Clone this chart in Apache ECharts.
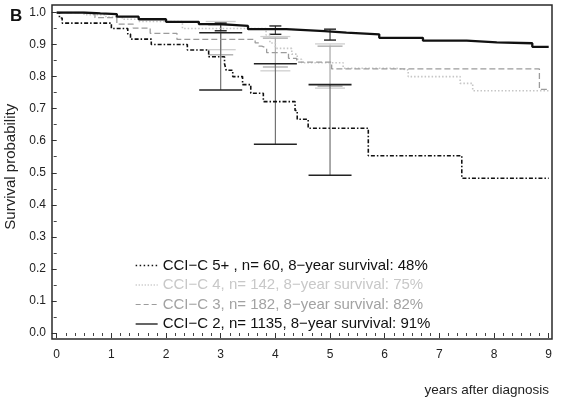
<!DOCTYPE html>
<html><head><meta charset="utf-8">
<script src="https://cdn.jsdelivr.net/npm/echarts@6/dist/echarts.min.js"></script>
<style>html,body{margin:0;padding:0;background:#fff}#c{width:563px;height:397px}</style>
</head><body><div id="c"></div>
<script>
// ---- data ----
var names = ['CCI\u2212C 5+ , n= 60, 8\u2212year survival: 48%',
             'CCI\u2212C 4, n= 142, 8\u2212year survival: 75%',
             'CCI\u2212C 3, n= 182, 8\u2212year survival: 82%',
             'CCI\u2212C 2, n= 1135, 8\u2212year survival: 91%'];
var xTicks = [0,1,2,3,4,5,6,7,8,9];
var yTicks = [0.0,0.1,0.2,0.3,0.4,0.5,0.6,0.7,0.8,0.9,1.0];

var t5 = [0, 0.05, 0.1, 1.0, 1.3, 1.35, 1.73, 2.39, 2.78, 3.07, 3.1, 3.22, 3.4, 3.55, 3.78, 4.36, 4.4, 4.6, 5.7, 7.41, 9.0];
var s5 = [1.0, 0.983, 0.967, 0.95, 0.933, 0.917, 0.9, 0.883, 0.862, 0.84, 0.82, 0.80, 0.775, 0.748, 0.722, 0.694, 0.667, 0.639, 0.553, 0.483, 0.483];

var t4 = [0, 0.5, 0.9, 1.2, 1.5, 2.3, 3.83, 3.9, 4.0, 4.3, 4.4, 4.48, 5.24, 6.2, 6.43, 7.38, 7.61, 9.0];
var s4 = [1.0, 0.993, 0.986, 0.979, 0.972, 0.95, 0.93, 0.905, 0.888, 0.87, 0.854, 0.843, 0.826, 0.821, 0.80, 0.779, 0.756, 0.756];

var t3 = [0, 0.4, 0.7, 1.1, 1.4, 1.71, 2.2, 3.63, 3.7, 3.75, 3.84, 4.24, 4.39, 5.03, 8.83, 9.0];
var s3 = [1.0, 0.995, 0.984, 0.964, 0.951, 0.935, 0.916, 0.905, 0.895, 0.889, 0.875, 0.857, 0.845, 0.824, 0.760, 0.760];

var t2 = [0, 0.5, 0.8, 1.1, 1.5, 2.0, 2.6, 3.0, 3.5, 4.2, 4.9, 5.3, 5.9, 6.7, 7.5, 8.05, 8.7, 9.0];
var s2 = [1.0, 0.997, 0.995, 0.987, 0.979, 0.971, 0.964, 0.958, 0.948, 0.942, 0.937, 0.932, 0.921, 0.912, 0.907, 0.904, 0.893, 0.893];

// confidence intervals at years 3, 4, 5
var ciTimes = [3, 4, 5];
var ci5Low = [0.758, 0.589, 0.492], ci5High = [0.937, 0.840, 0.775];
var ci4Low = [0.884, 0.818, 0.764], ci4High = [0.972, 0.925, 0.902];
var ci3Low = [0.868, 0.830, 0.770], ci3High = [0.961, 0.920, 0.895];
var ci2Low = [0.943, 0.932, 0.914], ci2High = [0.967, 0.958, 0.948];

// ---- build ----
function pairs(t, s){ return t.map(function(v,i){ return [v, s[i]]; }); }
function ciData(lo, hi){ return ciTimes.map(function(t,i){ return [t, lo[i], hi[i]]; }); }

var FONT = 'Liberation Sans, Arial, Helvetica, sans-serif';
var colors = ['#111111', '#c6c6c6', '#9c9c9c', '#111111'];
var textColors = ['#111111', '#c8c8c8', '#a2a2a2', '#111111'];
var lineStyles = [
  {color: colors[0], width: 1.6, type: [4, 2, 1.5, 2]},
  {color: colors[1], width: 1.6, type: [1.5, 2]},
  {color: colors[2], width: 1.3, type: [6, 3]},
  {color: colors[3], width: 2.3, type: 'solid'}
];
var legendLineStyles = [
  {color: colors[0], width: 1.3, type: [1.5, 2.5]},
  {color: colors[1], width: 1.3, type: [1.2, 1.8]},
  {color: colors[2], width: 1.2, type: [5, 3]},
  {color: colors[3], width: 1.3, type: 'solid'}
];

function ciSeries(lo, hi, color, barColor, capW, lw){
  return {
    type: 'custom', xAxisIndex: 0, yAxisIndex: 0, silent: true, z: 1,
    data: ciData(lo, hi),
    renderItem: function(params, api){
      var x = api.value(0);
      var p1 = api.coord([x, api.value(1)]);
      var p2 = api.coord([x, api.value(2)]);
      var h = capW / 2;
      return {type: 'group', children: [
        {type: 'line', shape: {x1: p1[0], y1: p1[1], x2: p2[0], y2: p2[1]}, style: {stroke: barColor, lineWidth: 1.1}},
        {type: 'line', shape: {x1: p1[0]-h, y1: p1[1], x2: p1[0]+h, y2: p1[1]}, style: {stroke: color, lineWidth: lw}},
        {type: 'line', shape: {x1: p2[0]-h, y1: p2[1], x2: p2[0]+h, y2: p2[1]}, style: {stroke: color, lineWidth: lw}}
      ]};
    }
  };
}

var curves = [pairs(t5, s5), pairs(t4, s4), pairs(t3, s3), pairs(t2, s2)];
var series = [];
series.push(ciSeries(ci4Low, ci4High, '#cfcfcf', '#d6d6d6', 30, 1.3));
series.push(ciSeries(ci3Low, ci3High, '#a8a8a8', '#b0b0b0', 25, 1.3));
series.push(ciSeries(ci2Low, ci2High, '#222222', '#333333', 12, 1.4));
series.push(ciSeries(ci5Low, ci5High, '#222222', '#666666', 43, 1.6));
var order = [1, 2, 0, 3];
order.forEach(function(i){
  series.push({
    name: names[i], type: 'line', step: 'end', symbol: 'none', z: 3 + (i === 3 ? 2 : 0),
    data: curves[i], lineStyle: lineStyles[i], itemStyle: {color: colors[i]}, animation: false
  });
});

var chart = echarts.init(document.getElementById('c'), null, {renderer: 'canvas'});
chart.setOption({
  animation: false,
  backgroundColor: '#ffffff',
  textStyle: {fontFamily: FONT},
  title: [
    {text: 'B', left: 5, top: 3, textStyle: {fontFamily: FONT, fontSize: 17, fontWeight: 'bold', color: '#111'}},
    {text: 'years after diagnosis', right: 9, top: 378, textStyle: {fontFamily: FONT, fontSize: 13.5, fontWeight: 'normal', color: '#222'}}
  ],
  legend: {
    orient: 'vertical', left: 130, top: 253, itemGap: 4.5, itemWidth: 22, itemHeight: 15,
    selectedMode: false,
    itemStyle: {opacity: 0},
    data: names.map(function(n, i){ return {name: n, lineStyle: legendLineStyles[i], itemStyle: {opacity: 0}, textStyle: {color: textColors[i], fontSize: 15, fontFamily: FONT}}; }),
    textStyle: {fontSize: 15, fontFamily: FONT}
  },
  grid: [{left: 56.7, right: 14.3, top: 12.5, bottom: 64, containLabel: false, outerBoundsMode: 'none'}],
  graphic: [{type: 'rect', shape: {x: 52, y: 5, width: 500, height: 334}, style: {fill: 'none', stroke: '#2a2a2a', lineWidth: 1.5}, z: 10, silent: true}],
  xAxis: [{
    type: 'value', min: xTicks[0], max: xTicks[xTicks.length-1], interval: 1, offset: 6,
    axisLine: {show: false}, splitLine: {show: false},
    axisTick: {show: true, length: 5, lineStyle: {color: '#333'}},
    minorTick: {show: true, splitNumber: 6, length: 3, lineStyle: {color: '#444'}},
    axisLabel: {margin: 10, fontSize: 12, color: '#222', fontFamily: FONT}
  }],
  yAxis: [{
    type: 'value', min: yTicks[0], max: yTicks[yTicks.length-1], interval: 0.1, offset: 4.7,
    axisLine: {show: false}, splitLine: {show: false},
    axisTick: {show: true, length: 5, lineStyle: {color: '#333'}},
    minorTick: {show: true, splitNumber: 2, length: 3, lineStyle: {color: '#444'}},
    axisLabel: {margin: 6, fontSize: 12, color: '#222', fontFamily: FONT, formatter: function(v){ return v.toFixed(1); }},
    name: 'Survival probability', nameLocation: 'middle', nameGap: 32, nameRotate: 90,
    nameTextStyle: {fontSize: 15, color: '#222', fontFamily: FONT, padding: [0, 0, 0, 12]}
  }],
  series: series
});
</script></body></html>
